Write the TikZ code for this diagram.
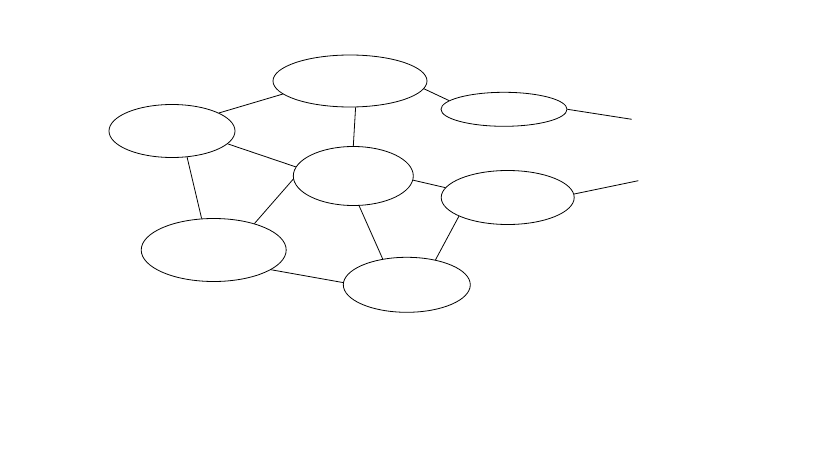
\documentclass[tikz,border=0pt]{standalone}
\usetikzlibrary{shapes.geometric}
\begin{document}
\begin{tikzpicture}[x=1pt,y=-1pt,
  blob/.style={draw,ellipse,inner sep=0pt,line width=0.8pt},
  edge/.style={draw,line width=0.8pt}]
\useasboundingbox (0,0) rectangle (819,460);
\node[blob,minimum width=154pt,minimum height=52pt] (top) at (350,81) {};
\node[blob,minimum width=126pt,minimum height=53pt] (left) at (172,131) {};
\node[blob,minimum width=126pt,minimum height=34pt] (rtop) at (504,109.3) {};
\node[blob,minimum width=120pt,minimum height=59pt] (mid) at (353.3,176) {};
\node[blob,minimum width=133pt,minimum height=54pt] (rmid) at (507.7,197.5) {};
\node[blob,minimum width=145pt,minimum height=63pt] (bl) at (213.7,250) {};
\node[blob,minimum width=127pt,minimum height=55pt] (bot) at (406.8,284.8) {};
\coordinate (e1) at (631.7,119.3);
\coordinate (e2) at (638.3,180.7);
\draw[edge] (left.21) -- (top.191);
\draw[edge] (top.354) -- (rtop.171.5);
\draw[edge] (rtop.0) -- (e1);
\draw[edge] (top.282) -- (mid.90);
\draw[edge] (left.347) -- (mid.171.6);
\draw[edge] (left.300) -- (bl.111);
\draw[edge] (mid.183.8) -- (bl.33.3);
\draw[edge] (mid.356.2) -- (rmid.171.1);
\draw[edge] (rmid.3.3) -- (e2);
\draw[edge] (mid.281.6) -- (bot.133);
\draw[edge] (rmid.201.5) -- (bot.41.4);
\draw[edge] (bl.341.9) -- (bot.178.6);
\end{tikzpicture}
\end{document}
